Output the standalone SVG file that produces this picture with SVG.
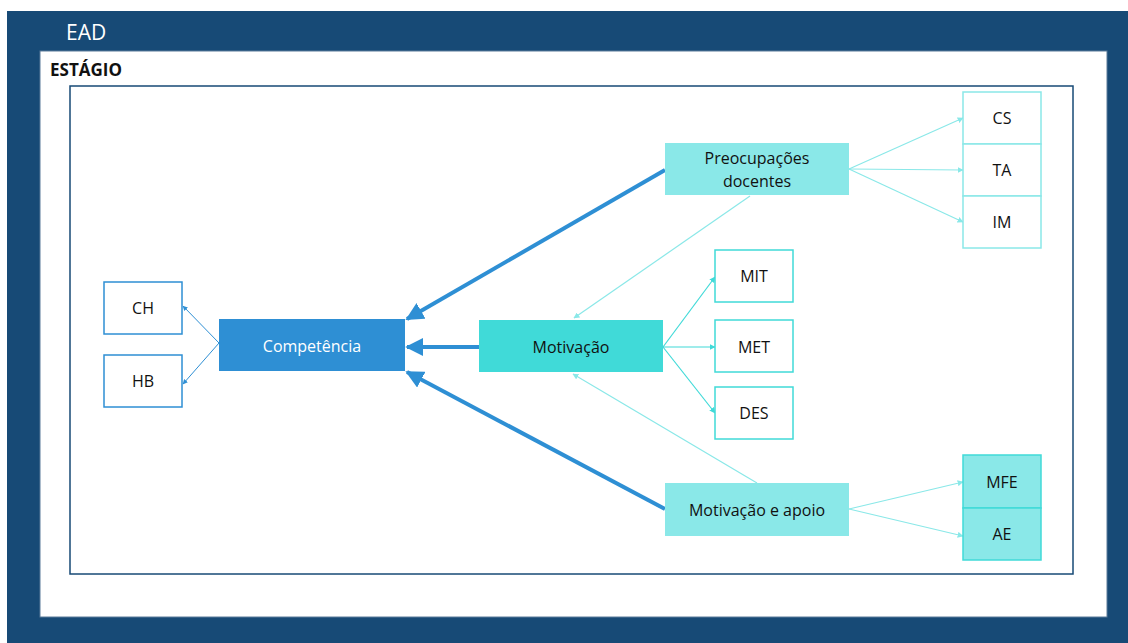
<svg xmlns="http://www.w3.org/2000/svg" width="1128" height="643" viewBox="0 0 1128 643">
<style>
text{font-family:"Open Sans","Noto Sans","Liberation Sans",sans-serif;font-size:16px;fill:#111;text-anchor:middle;dominant-baseline:central}
.thick{stroke:#2E8FD4;stroke-width:4;fill:none}
.thinb{stroke:#2E8FD4;stroke-width:1;fill:none}
.lc{stroke:#8AE8E8;stroke-width:1.2;fill:none}
.tc{stroke:#40DAD8;stroke-width:1.2;fill:none}
.bx{fill:#fff;stroke-width:1.5}
</style>
<defs>
<marker id="ab" viewBox="0 0 10 10" refX="9" refY="5" markerWidth="4.5" markerHeight="4.5" orient="auto" markerUnits="strokeWidth"><path d="M0,0L10,5L0,10z" fill="#2E8FD4"/></marker>
<marker id="sb" viewBox="0 0 10 10" refX="9" refY="5" markerWidth="5" markerHeight="5" orient="auto" markerUnits="strokeWidth"><path d="M0,0L10,5L0,10z" fill="#2E8FD4"/></marker>
<marker id="sl" viewBox="0 0 10 10" refX="9" refY="5" markerWidth="5" markerHeight="5" orient="auto" markerUnits="strokeWidth"><path d="M0,0L10,5L0,10z" fill="#8AE8E8"/></marker>
<marker id="st" viewBox="0 0 10 10" refX="9" refY="5" markerWidth="5" markerHeight="5" orient="auto" markerUnits="strokeWidth"><path d="M0,0L10,5L0,10z" fill="#40DAD8"/></marker>
</defs>
<rect x="7" y="11" width="1121" height="632" fill="#174A76"/>
<rect x="40" y="51" width="1067" height="566" fill="#fff" stroke="#5a7a99" stroke-width="1"/>
<text x="66" y="32" style="fill:#fff;font-size:21px;text-anchor:start">EAD</text>
<text x="50" y="69" style="font-weight:bold;font-size:17px;text-anchor:start">ESTÁGIO</text>
<rect x="70" y="86" width="1003" height="488" fill="none" stroke="#174A76" stroke-width="1.5"/>
<g id="connectors">
<line class="thick" x1="665" y1="170" x2="407" y2="319" marker-end="url(#ab)"/>
<line class="thick" x1="479" y1="347" x2="407" y2="347" marker-end="url(#ab)"/>
<line class="thick" x1="665" y1="509" x2="407" y2="372" marker-end="url(#ab)"/>
<line class="thinb" x1="219" y1="343" x2="183" y2="306" marker-end="url(#sb)"/>
<line class="thinb" x1="219" y1="343" x2="183" y2="384" marker-end="url(#sb)"/>
<line class="lc" x1="849" y1="169" x2="963" y2="118" marker-end="url(#sl)"/>
<line class="lc" x1="849" y1="169" x2="963" y2="170" marker-end="url(#sl)"/>
<line class="lc" x1="849" y1="169" x2="963" y2="222" marker-end="url(#sl)"/>
<line class="lc" x1="750" y1="196" x2="574" y2="318" marker-end="url(#sl)"/>
<line class="lc" x1="757" y1="483" x2="573" y2="374" marker-end="url(#sl)"/>
<line class="tc" x1="663" y1="347" x2="715" y2="277" marker-end="url(#st)"/>
<line class="tc" x1="663" y1="347" x2="715" y2="347" marker-end="url(#st)"/>
<line class="tc" x1="663" y1="347" x2="715" y2="413" marker-end="url(#st)"/>
<line class="lc" x1="849" y1="509" x2="963" y2="482" marker-end="url(#sl)"/>
<line class="lc" x1="849" y1="509" x2="963" y2="536" marker-end="url(#sl)"/>
</g>
<g id="preocupacoes"><rect x="665" y="143" width="184" height="52" fill="#8AE8E8"/><text x="757" y="158">Preocupações</text><text x="757" y="181">docentes</text></g>
<g id="cs"><rect class="bx" x="963" y="92" width="78" height="52" stroke="#8AE8E8"/><text x="1002" y="118">CS</text></g>
<g id="ta"><rect class="bx" x="963" y="144" width="78" height="52" stroke="#8AE8E8"/><text x="1002" y="170">TA</text></g>
<g id="im"><rect class="bx" x="963" y="196" width="78" height="52" stroke="#8AE8E8"/><text x="1002" y="222">IM</text></g>
<g id="competencia"><rect x="219" y="319" width="186" height="52" fill="#2E8FD4"/><text x="312" y="346" style="fill:#fff">Competência</text></g>
<g id="ch"><rect class="bx" x="104" y="282" width="78" height="52" stroke="#2E8FD4"/><text x="143" y="308">CH</text></g>
<g id="hb"><rect class="bx" x="104" y="355" width="78" height="52" stroke="#2E8FD4"/><text x="143" y="381">HB</text></g>
<g id="motivacao"><rect x="479" y="320" width="184" height="52" fill="#40DAD8"/><text x="571" y="347">Motivação</text></g>
<g id="mit"><rect class="bx" x="715" y="250" width="78" height="52" stroke="#40DAD8"/><text x="754" y="276">MIT</text></g>
<g id="met"><rect class="bx" x="715" y="320" width="78" height="52" stroke="#40DAD8"/><text x="754" y="347">MET</text></g>
<g id="des"><rect class="bx" x="715" y="387" width="78" height="52" stroke="#40DAD8"/><text x="754" y="413">DES</text></g>
<g id="motivacao-apoio"><rect x="665" y="483" width="184" height="53" fill="#8AE8E8"/><text x="757" y="510">Motivação e apoio</text></g>
<g id="mfe"><rect x="963" y="455" width="78" height="53" fill="#8AE8E8" stroke="#40DAD8" stroke-width="1.5"/><text x="1002" y="482">MFE</text></g>
<g id="ae"><rect x="963" y="508" width="78" height="52" fill="#8AE8E8" stroke="#40DAD8" stroke-width="1.5"/><text x="1002" y="534">AE</text></g>
</svg>
